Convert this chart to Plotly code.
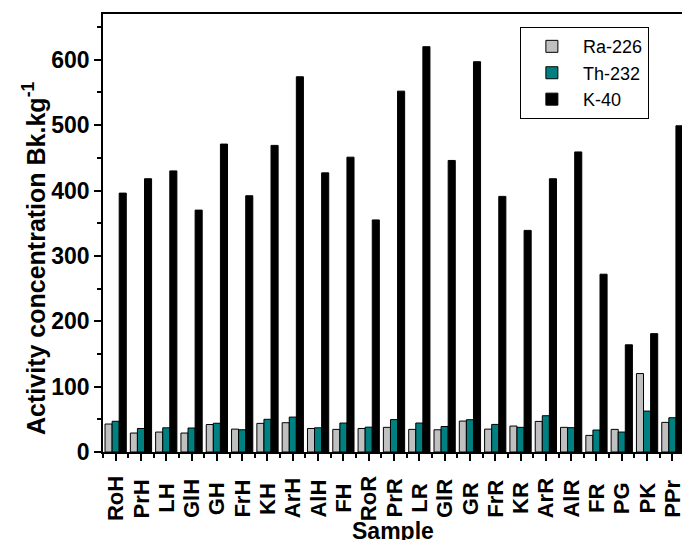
import plotly.graph_objects as go

categories = ["RoH", "PrH", "LH", "GlH", "GH", "FrH", "KH", "ArH", "AlH", "FH", "RoR",
              "PrR", "LR", "GlR", "GR", "FrR", "KR", "ArR", "AlR", "FR", "PG", "PK", "PPr"]
ra226 = [42.8, 29, 30.5, 29, 42, 35, 43.8, 44.8, 36, 34.6, 36,
         37.7, 34.6, 34, 47.3, 35, 39.7, 46.8, 37.7, 25.4, 34.6, 120, 45.3]
th232 = [47, 36, 37, 36.7, 44, 34, 50, 53.4, 37, 44.3, 38,
         49.6, 44.3, 39, 49.4, 42.2, 37.7, 55.5, 37.2, 33.6, 30.5, 62.6, 52.4]
k40 = [396, 418, 430, 370, 471, 392, 469, 574, 427, 451, 355,
       552, 620, 446, 597, 391, 339, 418, 459, 272, 164, 181, 499]

series = [("Ra-226", ra226, "#C0C0C0"), ("Th-232", th232, "#008080"), ("K-40", k40, "#000000")]

idx = list(range(len(categories)))
fig = go.Figure()
for name, vals, col in series:
    fig.add_trace(go.Bar(x=idx, y=vals, name=name, marker=dict(color=col, line=dict(color="#000000", width=1))))

FONT = "Liberation Sans, Arial, sans-serif"

annotations = []
for i, c in zip(idx, categories):
    annotations.append(dict(x=i, y=-0.106, xref="x", yref="paper", text="<b>%s</b>" % c,
                            textangle=-90, showarrow=False, xanchor="center", yanchor="middle",
                            font=dict(family=FONT, size=22, color="#000000")))
annotations.append(dict(x=0.5, y=-0.147, xref="paper", yref="paper", text="<b>Sample</b>",
                        showarrow=False, xanchor="center", yanchor="top",
                        font=dict(family=FONT, size=23, color="#000000")))
annotations.append(dict(x=-0.119, y=0.441, xref="paper", yref="paper",
                        text="<b>Activity concentration Bk.kg<sup>-1</sup></b>",
                        textangle=-90, showarrow=False, xanchor="center", yanchor="middle",
                        font=dict(family=FONT, size=25, color="#000000")))

fig.update_layout(
    width=682, height=540,
    margin=dict(l=103, r=0, t=14, b=87.5, autoexpand=False),
    paper_bgcolor="white", plot_bgcolor="white",
    barmode="group", bargap=0.16, bargroupgap=0,
    font=dict(family=FONT, color="#000000"),
    showlegend=True,
    legend=dict(x=0.72, y=0.97, xanchor="left", yanchor="top",
                bordercolor="#000000", borderwidth=1, bgcolor="white",
                font=dict(family=FONT, size=18, color="#000000"),
                tracegroupgap=0, itemwidth=52),
    annotations=annotations,
    xaxis=dict(range=[-0.5, 22.38], tickmode="array", tickvals=idx, showticklabels=False,
               automargin=False,
               ticks="outside", ticklen=7, tickwidth=1.5, tickcolor="#000000",
               minor=dict(tickmode="array", tickvals=[i + 0.5 for i in idx[:-1]] + [-0.5],
                          ticks="outside", ticklen=4, tickwidth=1.5, tickcolor="#000000"),
               showline=True, linecolor="#000000", linewidth=1.5, mirror=True,
               showgrid=False, zeroline=False),
    yaxis=dict(range=[0, 670], dtick=100, tick0=0, ticks="outside", ticklen=7, tickwidth=1.5,
               tickcolor="#000000", automargin=False,
               minor=dict(dtick=50, ticks="outside", ticklen=4, tickwidth=1.5, tickcolor="#000000"),
               showline=True, linecolor="#000000", linewidth=1.5, mirror=False,
               showgrid=False, zeroline=False,
               tickfont=dict(family=FONT, size=23, color="#000000"),
               tickprefix="<b>", ticksuffix="</b>"),
)

fig.write_html("out.html", config={"displayModeBar": False},
               post_script="document.body.style.margin='0';document.body.style.overflow='hidden';")
